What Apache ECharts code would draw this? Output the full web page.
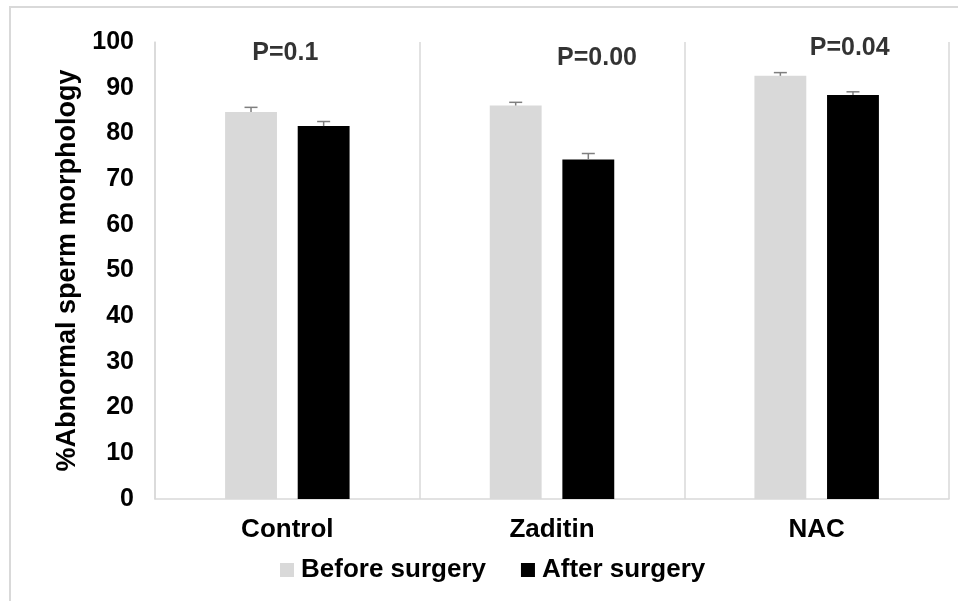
<!DOCTYPE html>
<html>
<head>
<meta charset="utf-8">
<script src="https://cdn.jsdelivr.net/npm/echarts@6/dist/echarts.min.js"></script>
<style>
html,body{margin:0;padding:0;background:#fff;}
#chart{width:958px;height:601px;}
</style>
</head>
<body>
<div id="chart"></div>
<script>
const categories = ['Control', 'Zaditin', 'NAC'];
const seriesNames = ['Before surgery', 'After surgery'];
const beforeValues = [84.7, 86.1, 92.6];
const afterValues = [81.6, 74.3, 88.4];
const beforeErrors = [1.0, 0.7, 0.7];
const afterErrors = [1.0, 1.3, 0.7];
const pLabels = ['P=0.1', 'P=0.00', 'P=0.04'];
const pLabelValues = [97.6, 96.5, 98.7];
const yTicks = { min: 0, max: 100, interval: 10 };

const FONT = '"Liberation Sans", Arial, sans-serif';
const BAR_W = 0.196;   // fraction of band
const BAR_GAP = 0.4;   // fraction of bar width
const pOffsets = [[-2, 0], [45, 0], [33, 0]];

function errorRender(side) {
  return function (params, api) {
    const cat = api.value(0);
    const v = api.value(1);
    const e = api.value(2);
    const base = api.coord([cat, v]);
    const top = api.coord([cat, v + e]);
    const band = api.size([1, 0])[0];
    const w = band * BAR_W;
    const x = base[0] + side * (w * (1 + BAR_GAP) / 2);
    const style = { stroke: '#7f7f7f', lineWidth: 1.5 };
    return {
      type: 'group',
      children: [
        { type: 'line', shape: { x1: x, y1: base[1], x2: x, y2: top[1] }, style: style },
        { type: 'line', shape: { x1: x - 6.5, y1: top[1], x2: x + 6.5, y2: top[1] }, style: style }
      ]
    };
  };
}

const chart = echarts.init(document.getElementById('chart'), null, { renderer: 'canvas' });
chart.setOption({
  backgroundColor: '#ffffff',
  animation: false,
  graphic: [{
    type: 'rect',
    shape: { x: 10, y: 7, width: 1100, height: 800 },
    style: { fill: 'none', stroke: '#d9d9d9', lineWidth: 2 },
    silent: true, z: -10
  }],
  grid: { left: 155, right: 9, top: 42, bottom: 102, containLabel: false },
  legend: {
    data: seriesNames,
    left: 280,
    top: 557,
    padding: 0,
    itemWidth: 14,
    itemHeight: 14,
    itemGap: 35,
    icon: 'rect',
    textStyle: { fontFamily: FONT, fontWeight: 'bold', fontSize: 26, color: '#000', padding: [0, 0, 0, 2] }
  },
  xAxis: {
    type: 'category',
    data: categories,
    axisLine: { show: true, lineStyle: { color: '#d9d9d9', width: 1.5 } },
    axisTick: { show: false },
    splitLine: { show: true, lineStyle: { color: '#d9d9d9', width: 1.5 } },
    axisLabel: { fontFamily: FONT, fontWeight: 'bold', fontSize: 26, color: '#000', margin: 18 }
  },
  yAxis: {
    type: 'value',
    min: yTicks.min,
    max: yTicks.max,
    interval: yTicks.interval,
    name: '%Abnormal sperm morphology',
    nameLocation: 'middle',
    nameRotate: 90,
    nameGap: 73,
    nameTextStyle: { fontFamily: FONT, fontWeight: 'bold', fontSize: 27, color: '#000' },
    axisLine: { show: true, lineStyle: { color: '#d9d9d9', width: 1.5 } },
    axisTick: { show: false },
    splitLine: { show: false },
    axisLabel: { fontFamily: FONT, fontWeight: 'bold', fontSize: 25, color: '#000', margin: 21 }
  },
  series: [
    {
      name: seriesNames[0], type: 'bar', data: beforeValues,
      barWidth: (BAR_W * 100) + '%', barGap: (BAR_GAP * 100) + '%',
      itemStyle: { color: '#d9d9d9' }
    },
    {
      name: seriesNames[1], type: 'bar', data: afterValues,
      barWidth: (BAR_W * 100) + '%', barGap: (BAR_GAP * 100) + '%',
      itemStyle: { color: '#000000' }
    },
    {
      type: 'custom', name: 'errBefore',
      renderItem: errorRender(-1),
      data: categories.map((c, i) => [i, beforeValues[i], beforeErrors[i]]),
      z: 5, silent: true
    },
    {
      type: 'custom', name: 'errAfter',
      renderItem: errorRender(1),
      data: categories.map((c, i) => [i, afterValues[i], afterErrors[i]]),
      z: 5, silent: true
    },
    {
      type: 'scatter', name: 'pvalues',
      symbolSize: 0,
      silent: true,
      clip: false,
      data: categories.map((c, i) => ({
        value: [i, pLabelValues[i]],
        label: { offset: pOffsets[i] }
      })),
      label: {
        show: true,
        position: 'inside',
        formatter: (p) => pLabels[p.dataIndex],
        fontFamily: FONT, fontWeight: 'bold', fontSize: 25, color: '#000'
      }
    }
  ]
});
</script>
</body>
</html>
